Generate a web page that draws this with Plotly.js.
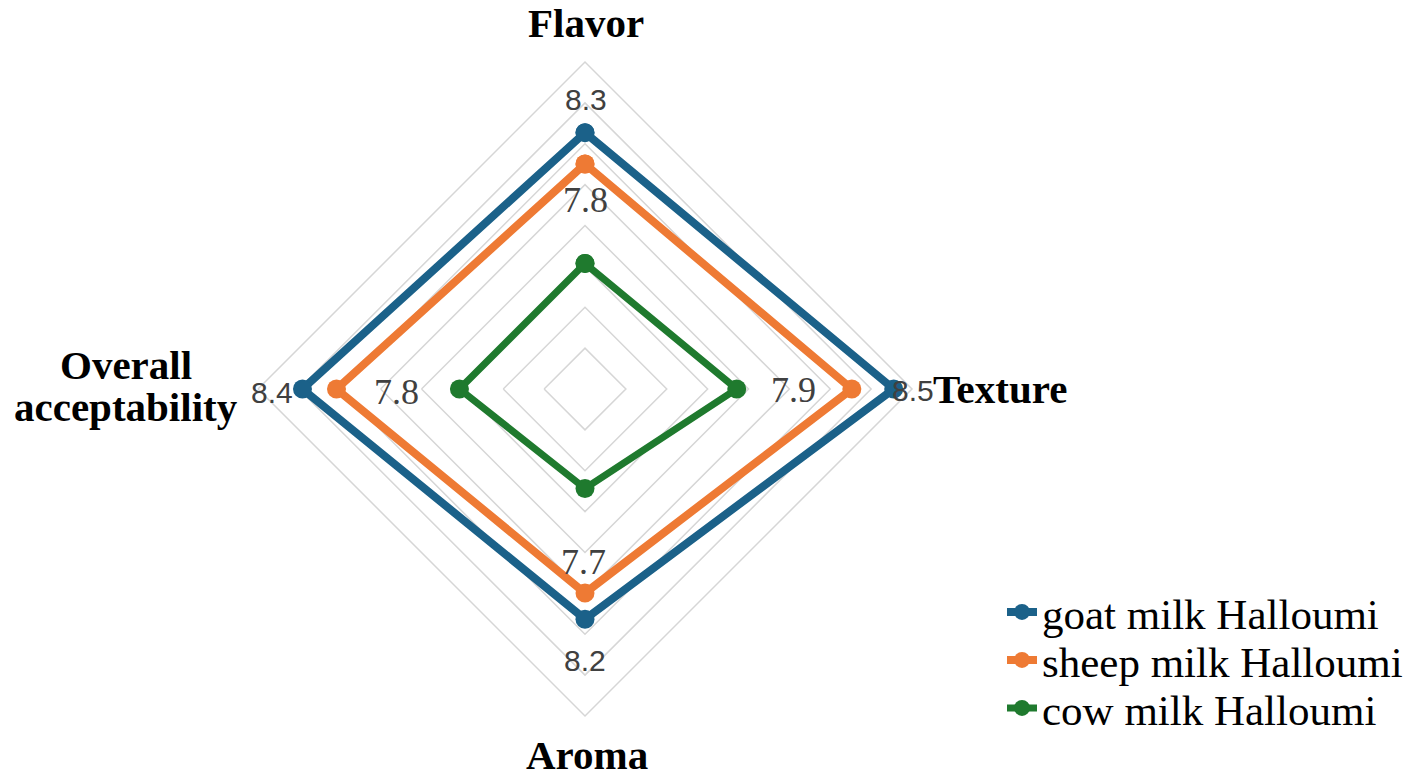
<!DOCTYPE html>
<html>
<head>
<meta charset="utf-8">
<script src="https://cdn.plot.ly/plotly-3.0.1.min.js"></script>
<style>
  html, body { margin: 0; padding: 0; background: #ffffff; }
  #chart { width: 1418px; height: 782px; }
</style>
</head>
<body>
<div id="chart"></div>
<script>
// ---- data ----
const categories = ['Flavor', 'Texture', 'Aroma', 'Overall acceptability'];
const seriesNames = ['goat milk Halloumi', 'sheep milk Halloumi', 'cow milk Halloumi'];
const goatValues = [8.3, 8.5, 8.2, 8.4];
const sheepValues = [8.18, 8.34, 8.10, 8.27];
const cowValues = [7.8, 7.9, 7.7, 7.8];

// ---- styling ----
const W = 1418, H = 782;
const colors = ['#1b6189', '#ee7a34', '#1f7a2e'];
const lineWidths = [8, 8, 7];
const serif = 'Liberation Serif, Times New Roman, serif';
const sans = 'Liberation Sans, Arial, sans-serif';
const rMin = 7.32, rMax = 8.57, nRings = 8;
const legendIds = ['legend', 'legend2', 'legend3'];

function closed(a) { return a.concat([a[0]]); }

const allSeries = [goatValues, sheepValues, cowValues];
const traces = allSeries.map((vals, i) => ({
  type: 'scatterpolar',
  name: seriesNames[i],
  legend: legendIds[i],
  r: closed(vals),
  theta: closed(categories),
  mode: 'lines+markers',
  line: { color: colors[i], width: lineWidths[i] },
  marker: { color: colors[i], size: 19 },
  hoverinfo: 'name+r+theta'
}));

// pixel -> paper helpers (margins are zero)
const px = x => x / W;
const py = y => 1 - y / H;

const annotations = [];
// goat data labels (outside the goat markers)
const goatLabelPos = [[586, 100], [913, 390], [585, 660], [272, 392]];
goatValues.forEach((v, i) => annotations.push({
  xref: 'paper', yref: 'paper', x: px(goatLabelPos[i][0]), y: py(goatLabelPos[i][1]),
  text: v.toFixed(1), showarrow: false, xanchor: 'center', yanchor: 'middle',
  font: { family: sans, size: 30, color: '#404040' }
}));
// cow data labels
const cowLabelPos = [[585, 200], [793, 390], [583, 562], [396, 392]];
cowValues.forEach((v, i) => annotations.push({
  xref: 'paper', yref: 'paper', x: px(cowLabelPos[i][0]), y: py(cowLabelPos[i][1]),
  text: v.toFixed(1), showarrow: false, xanchor: 'center', yanchor: 'middle',
  font: { family: serif, size: 36, color: '#404040' }
}));
// category labels (last one split over two lines)
const catLines = [
  [categories[0], 586, 23],
  [categories[1], 1000, 389],
  [categories[2], 587, 755],
  [categories[3].split(' ')[0], 126, 365],
  [categories[3].split(' ')[1], 126, 407]
];
catLines.forEach(([t, x, y]) => annotations.push({
  xref: 'paper', yref: 'paper', x: px(x), y: py(y),
  text: '<b>' + t + '</b>', showarrow: false, xanchor: 'center', yanchor: 'middle',
  font: { family: serif, size: 41, color: '#000000' }
}));

const cx = 585, cy = 389, R = 327;

const layout = {
  width: W, height: H,
  margin: { l: 0, r: 0, t: 0, b: 0 },
  paper_bgcolor: '#ffffff',
  plot_bgcolor: '#ffffff',
  showlegend: true,
  polar: {
    domain: { x: [px(cx - R), px(cx + R)], y: [py(cy + R), py(cy - R)] },
    bgcolor: '#ffffff',
    gridshape: 'linear',
    radialaxis: {
      range: [rMin, rMax],
      tickmode: 'linear', tick0: rMin, dtick: (rMax - rMin) / nRings,
      showticklabels: false, ticks: '', showline: false,
      gridcolor: '#d6d6d6', gridwidth: 1.5
    },
    angularaxis: {
      rotation: 90, direction: 'clockwise',
      showgrid: false, showticklabels: false, ticks: '',
      linecolor: '#d6d6d6', linewidth: 1.5
    }
  },
  annotations: annotations
};

const legendRowY = [612, 660, 708];
legendIds.forEach((id, i) => {
  layout[id] = {
    x: px(1002), y: py(legendRowY[i]), xanchor: 'left', yanchor: 'middle',
    font: { family: serif, size: 43, color: '#000000' },
    bgcolor: 'rgba(0,0,0,0)', borderwidth: 0
  };
});

Plotly.newPlot('chart', traces, layout, { displayModeBar: false, staticPlot: true });
</script>
</body>
</html>
